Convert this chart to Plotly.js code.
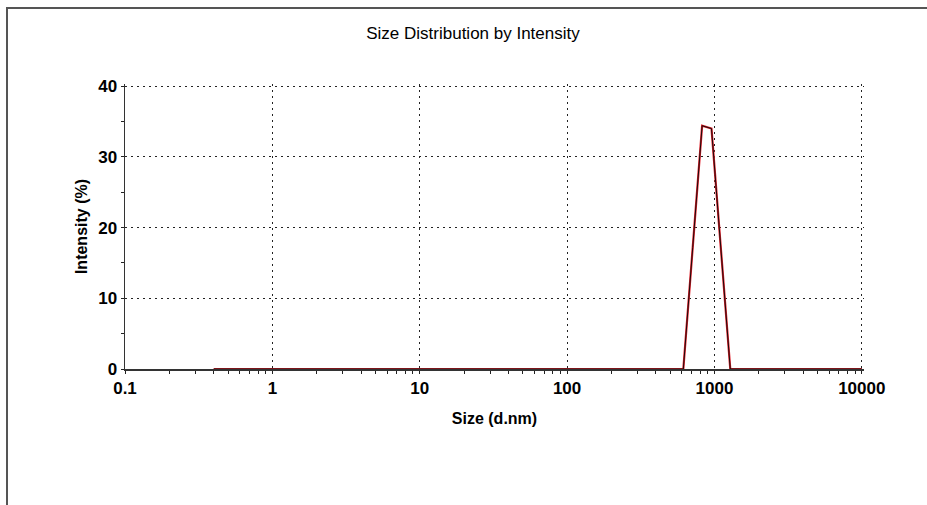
<!DOCTYPE html>
<html>
<head>
<meta charset="utf-8">
<script src="https://cdn.plot.ly/plotly-3.0.1.min.js"></script>
<style>
  html, body { margin: 0; padding: 0; background: #fff; overflow: hidden; }
  #wrap { position: relative; width: 927px; height: 505px; overflow: hidden; }
  #frame { position: absolute; left: 6px; top: 7px; width: 2000px; height: 2000px;
           border-top: 2px solid #555; border-left: 2px solid #555; pointer-events: none; z-index: 5; }
  #chart { position: absolute; left: 0; top: 0; width: 927px; height: 505px; }
</style>
</head>
<body>
<div id="wrap">
  <div id="chart"></div>
  <div id="frame"></div>
</div>
<script>
// Size bins (d.nm)
const sizes = [0.4, 0.4632, 0.5365, 0.6213, 0.7195, 0.8332, 0.9649, 1.117, 1.294, 1.499,
  1.736, 2.01, 2.328, 2.696, 3.122, 3.615, 4.187, 4.849, 5.615, 6.503,
  7.531, 8.721, 10.1, 11.7, 13.54, 15.69, 18.17, 21.04, 24.36, 28.21,
  32.67, 37.84, 43.82, 50.75, 58.77, 68.06, 78.82, 91.28, 105.7, 122.4,
  141.8, 164.2, 190.1, 220.2, 255, 295.3, 342, 396.1, 458.7, 531.2,
  615.1, 712.4, 825, 955.4, 1106, 1281, 1484, 1718, 1990, 2305,
  2669, 3091, 3580, 4145, 4801, 5560, 6439, 7456, 8635, 10000];
// Intensity (%)
const intensity = [0, 0, 0, 0, 0, 0, 0, 0, 0, 0,
  0, 0, 0, 0, 0, 0, 0, 0, 0, 0,
  0, 0, 0, 0, 0, 0, 0, 0, 0, 0,
  0, 0, 0, 0, 0, 0, 0, 0, 0, 0,
  0, 0, 0, 0, 0, 0, 0, 0, 0, 0,
  0, 17.2, 34.4, 34.0, 17.0, 0, 0, 0, 0, 0,
  0, 0, 0, 0, 0, 0, 0, 0, 0, 0];

const xTickVals = [0.1, 1, 10, 100, 1000, 10000];
const xTickText = ['0.1', '1', '10', '100', '1000', '10000'];
const yTickVals = [0, 10, 20, 30, 40];

const titleText = 'Size Distribution by Intensity';
const xTitle = '<b>Size (d.nm)</b>';
const yTitle = '<b>Intensity (%)</b>';

const FONT = 'Liberation Sans, Arial, sans-serif';

const traces = [
  { x: sizes, y: intensity, type: 'scatter', mode: 'lines',
    line: { color: '#e0202a', width: 2.2 }, hoverinfo: 'skip', showlegend: false },
  { x: sizes, y: intensity, type: 'scatter', mode: 'lines',
    line: { color: '#1a0a0a', width: 1 }, hoverinfo: 'skip', showlegend: false }
];

const gridDash = '2px,4px';
const xRange = [-1, 4.015];
const yRange = [0, 40.3];

const layout = {
  width: 927, height: 505,
  margin: { l: 125, r: 63, t: 84, b: 136 },
  paper_bgcolor: '#fff', plot_bgcolor: '#fff',
  showlegend: false,
  title: { text: titleText, x: 473 / 927, xref: 'container', xanchor: 'center',
           y: 1 - 33 / 505, yref: 'container', yanchor: 'middle',
           font: { family: FONT, size: 17, color: '#000' } },
  xaxis: {
    type: 'log', range: xRange,
    tickmode: 'array', tickvals: xTickVals, ticktext: xTickText,
    ticks: 'outside', ticklen: 3, tickcolor: '#222', tickwidth: 1,
    minor: { ticks: 'outside', ticklen: 3, dtick: 'D1', tickcolor: '#222', showgrid: false },
    showline: true, linecolor: '#333', linewidth: 1.5,
    showgrid: true, gridcolor: '#222', gridwidth: 1, griddash: gridDash,
    zeroline: false,
    tickfont: { family: FONT, size: 17, color: '#000', weight: 'bold' },
    title: { text: xTitle, standoff: 16, font: { family: FONT, size: 16, color: '#000' } }
  },
  yaxis: {
    range: yRange,
    tickmode: 'array', tickvals: yTickVals,
    ticks: 'outside', ticklen: 3, tickcolor: '#222', tickwidth: 1,
    minor: { ticks: 'outside', ticklen: 3, dtick: 5, tickcolor: '#222', showgrid: false },
    showline: true, linecolor: '#333', linewidth: 1.5,
    showgrid: true, gridcolor: '#222', gridwidth: 1, griddash: gridDash,
    zeroline: false,
    tickfont: { family: FONT, size: 17, color: '#000', weight: 'bold' },
    title: { text: yTitle, standoff: 6, font: { family: FONT, size: 16, color: '#000' } }
  },
  xaxis2: {
    type: 'log', range: xRange, overlaying: 'x', anchor: 'y', side: 'bottom',
    tickmode: 'array', tickvals: xTickVals, showticklabels: false,
    ticks: 'inside', ticklen: 2, tickcolor: '#222',
    minor: { ticks: 'inside', ticklen: 2, dtick: 'D1', tickcolor: '#222', showgrid: false },
    showgrid: false, showline: false, zeroline: false
  },
  yaxis2: {
    range: yRange, overlaying: 'y', anchor: 'x', side: 'left',
    tickmode: 'array', tickvals: yTickVals, showticklabels: false,
    ticks: 'inside', ticklen: 7, tickcolor: '#222',
    minor: { ticks: 'inside', ticklen: 7, dtick: 5, tickcolor: '#222', showgrid: false },
    showgrid: false, showline: false, zeroline: false
  }
};

Plotly.newPlot('chart', traces, layout, { displayModeBar: false, staticPlot: true });
</script>
</body>
</html>
